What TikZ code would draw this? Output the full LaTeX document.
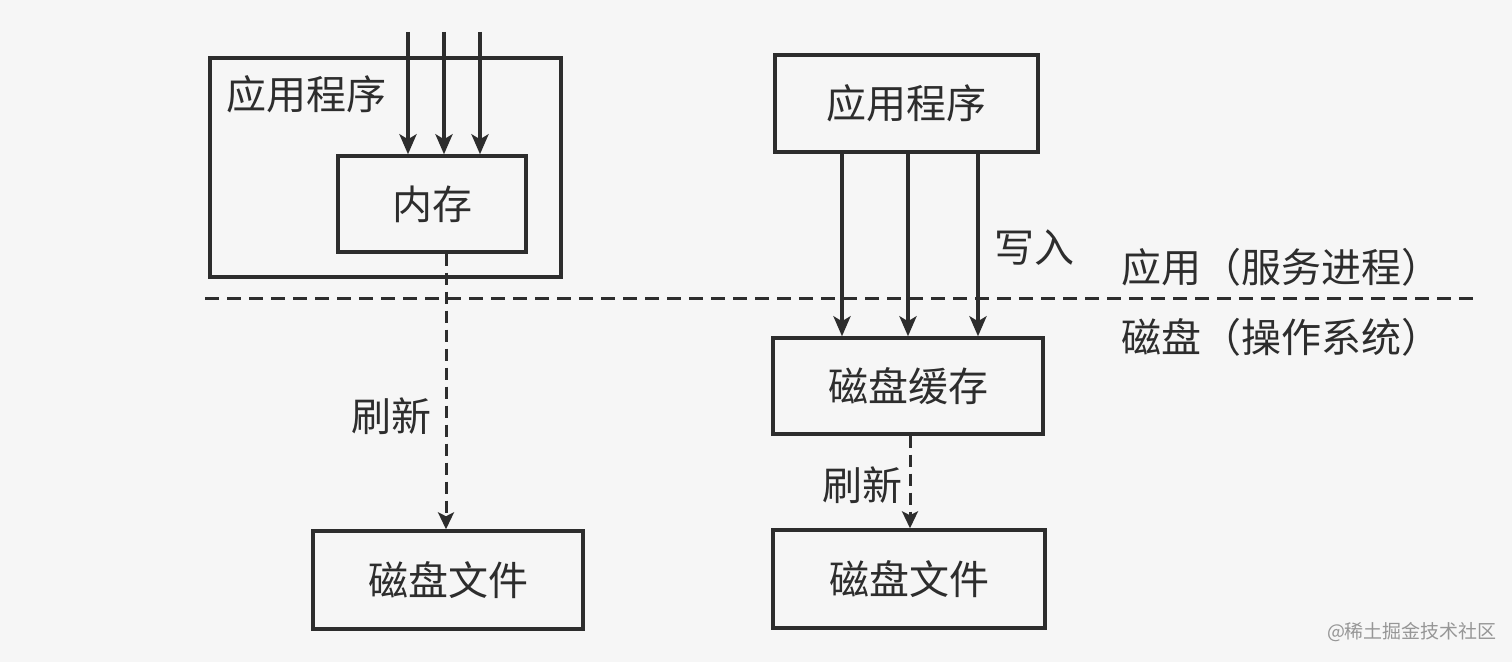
\documentclass[tikz,border=0pt]{standalone}
\usepackage{fontspec}
\setmainfont{Noto Sans CJK SC}
\usetikzlibrary{arrows.meta}
\definecolor{ink}{RGB}{45,45,45}
\definecolor{paper}{RGB}{246,246,246}
\definecolor{wm}{RGB}{150,150,150}
\tikzset{
  box/.style={draw=ink, line width=1.7pt, inner sep=0pt, font=\fontsize{20pt}{24pt}\selectfont, text=ink},
  lbl/.style={inner sep=0pt, font=\fontsize{20pt}{24pt}\selectfont, text=ink},
  arr/.style={draw=ink, line width=1.9pt, -{Stealth[length=10pt,width=8.5pt,inset=2.5pt]}},
  darr/.style={draw=ink, line width=1.5pt, dash pattern=on 6pt off 3.5pt, -{Stealth[length=8.5pt,width=8pt,inset=2pt]}},
  sep/.style={draw=ink, line width=1.5pt, dash pattern=on 7pt off 4pt}
}
\begin{document}
\begin{tikzpicture}[x=0.5pt,y=-0.5pt]
\fill[paper] (0,0) rectangle (1512,662);
\useasboundingbox (0,0) rectangle (1512,662);
% left side
\node[box, minimum width=175.5pt, minimum height=109.5pt] (outerL) at (385.5,167.5) {};
\node[lbl] (appL) at (306,94) {应用程序};
\node[box, minimum width=94pt, minimum height=48pt] (memL) at (432,204) {内存};
\node[box, minimum width=135pt, minimum height=49pt] (fileL) at (448,580) {磁盘文件};
\coordinate (inA) at (408,32);
\coordinate (inB) at (444,32);
\coordinate (inC) at (480,32);
\draw[arr] (inA) -- (inA |- memL.north);
\draw[arr] (inB) -- (inB |- memL.north);
\draw[arr] (inC) -- (inC |- memL.north);
\draw[darr] ([xshift=7pt]memL.south) -- ([xshift=7pt]memL.south |- fileL.north);
\node[lbl] (flushL) at (391,416) {刷新};
% right side
\node[box, minimum width=131.5pt, minimum height=48.5pt] (appR) at (906.5,103.5) {应用程序};
\node[box, minimum width=135pt, minimum height=48pt] (cacheR) at (908,386) {磁盘缓存};
\node[box, minimum width=136pt, minimum height=49pt] (fileR) at (909,579) {磁盘文件};
\draw[arr] ([xshift=-32.25pt]appR.south) -- ([xshift=-32.25pt]appR.south |- cacheR.north);
\draw[arr] ([xshift=0.75pt]appR.south) -- ([xshift=0.75pt]appR.south |- cacheR.north);
\draw[arr] ([xshift=35.75pt]appR.south) -- ([xshift=35.75pt]appR.south |- cacheR.north);
\node[lbl] (write) at (1034,248) {写入};
\draw[darr] ([xshift=1pt]cacheR.south) -- ([xshift=1pt]cacheR.south |- fileR.north);
\node[lbl] (flushR) at (862,485) {刷新};
% separator
\coordinate (sepA) at (205,299);
\coordinate (sepB) at (1478,299);
\draw[sep] (sepA) -- (sepB);
\node[lbl] (upper) at (1281,267) {应用（服务进程）};
\node[lbl] (lower) at (1281,337) {磁盘（操作系统）};
% watermark
\node[inner sep=0pt, text=wm, font=\fontsize{9.5pt}{11pt}\selectfont] (mark) at (1412,632) {@稀土掘金技术社区};
\end{tikzpicture}
\end{document}
